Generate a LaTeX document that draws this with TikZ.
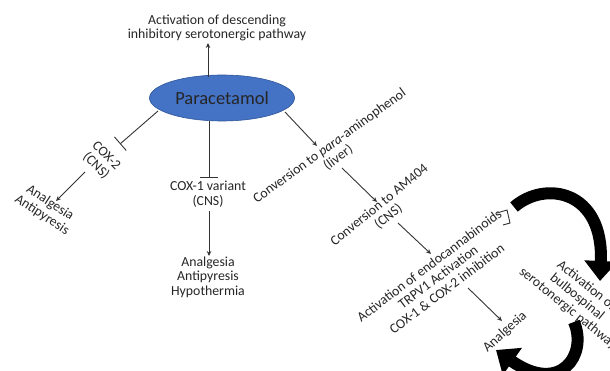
\documentclass[tikz,border=0pt]{standalone}
\usepackage{fontspec}
\setmainfont{Carlito}
\usetikzlibrary{arrows.meta,shapes.geometric}
\definecolor{pblue}{HTML}{4472C4}
\definecolor{pblued}{HTML}{2F5597}
\begin{document}
\begin{tikzpicture}[x=1pt,y=-1pt,
  txt/.style={font=\fontsize{13.8}{14.6}\selectfont, align=center, text=black!85, inner sep=0pt},
  con/.style={draw=black!80, line width=0.9pt},
  arr/.style={con, -{Stealth[length=5pt,width=4.5pt]}},
  inh/.style={con, -{Bar[width=18pt]}},
  big/.style={line width=12pt, draw=black, -{Triangle[length=20pt,width=32pt]}}]
\fill[white] (0,0) rectangle (610,371);
\useasboundingbox (0,0) rectangle (610,371);

% top
\node[txt] (top) at (217,28) {Activation of descending\\inhibitory serotonergic pathway};
\node[ellipse, fill=pblue, draw=pblued, line width=0.6pt, minimum width=145pt, minimum height=46pt,
      font=\fontsize{18.5}{20}\selectfont, text=black!85, inner sep=0pt] (para) at (222,98) {Paracetamol};
\coordinate (topA) at (208,77);
\coordinate (topB) at (208,43);
\draw[arr] (topA) -- (topB);

% COX-2 branch
\coordinate (c2a) at (158,111);
\coordinate (c2b) at (120,144);
\draw[inh] (c2a) -- (c2b);
\node[txt, rotate=-45] (cox2) at (101,161) {COX-2\\(CNS)};
\coordinate (c2c) at (85,172);
\coordinate (c2d) at (56,201);
\draw[arr] (c2c) -- (c2d);
\node[txt, rotate=-33] (an1) at (46,209) {Analgesia\\Antipyresis};

% COX-1 branch
\coordinate (c1a) at (209,121);
\coordinate (c1b) at (209,178);
\draw[inh] (c1a) -- (c1b);
\node[txt] (cox1) at (208,194) {COX-1 variant\\(CNS)};
\coordinate (c1c) at (209,211);
\coordinate (c1d) at (209,256);
\draw[arr] (c1c) -- (c1d);
\node[txt] (an2) at (208,277) {Analgesia\\Antipyresis\\Hypothermia};

% right branch
\coordinate (r1a) at (285,112);
\coordinate (r1b) at (317,146);
\draw[arr] (r1a) -- (r1b);
\node[txt, rotate=36] (pap) at (334,152) {Conversion to \textit{para}-aminophenol\\(liver)};
\coordinate (r2a) at (342,168);
\coordinate (r2b) at (377,202);
\draw[arr] (r2a) -- (r2b);
\node[txt, rotate=39] (am) at (384,211) {Conversion to AM404\\(CNS)};
\coordinate (r3a) at (398,223);
\coordinate (r3b) at (431,254);
\draw[arr] (r3a) -- (r3b);
\node[txt, rotate=37] (endo) at (438,277) {Activation of endocannabinoids\\TRPV1 Activation\\COX-1 \& COX-2 inhibition};
\draw[con] (497,213) -- (507,210) -- (510,223) -- (503,225);
\coordinate (r4a) at (468,288);
\coordinate (r4b) at (502,321);
\draw[arr] (r4a) -- (r4b);
\node[txt, rotate=42] (an3) at (505,332) {Analgesia};
\node[txt, rotate=-39] (bulbo) at (577,297) {Activation of\\bulbospinal\\serotonergic pathway};

% big curved arrows
\coordinate (b1s) at (514,207);
\coordinate (b1e) at (600,281);
\draw[big] (b1s) .. controls (545,180) and (604,190) .. (b1e);
\coordinate (b2s) at (574,322);
\coordinate (b2e) at (496,350);
\draw[big] (b2s) .. controls (588,355) and (560,395) .. (b2e);
\end{tikzpicture}
\end{document}
